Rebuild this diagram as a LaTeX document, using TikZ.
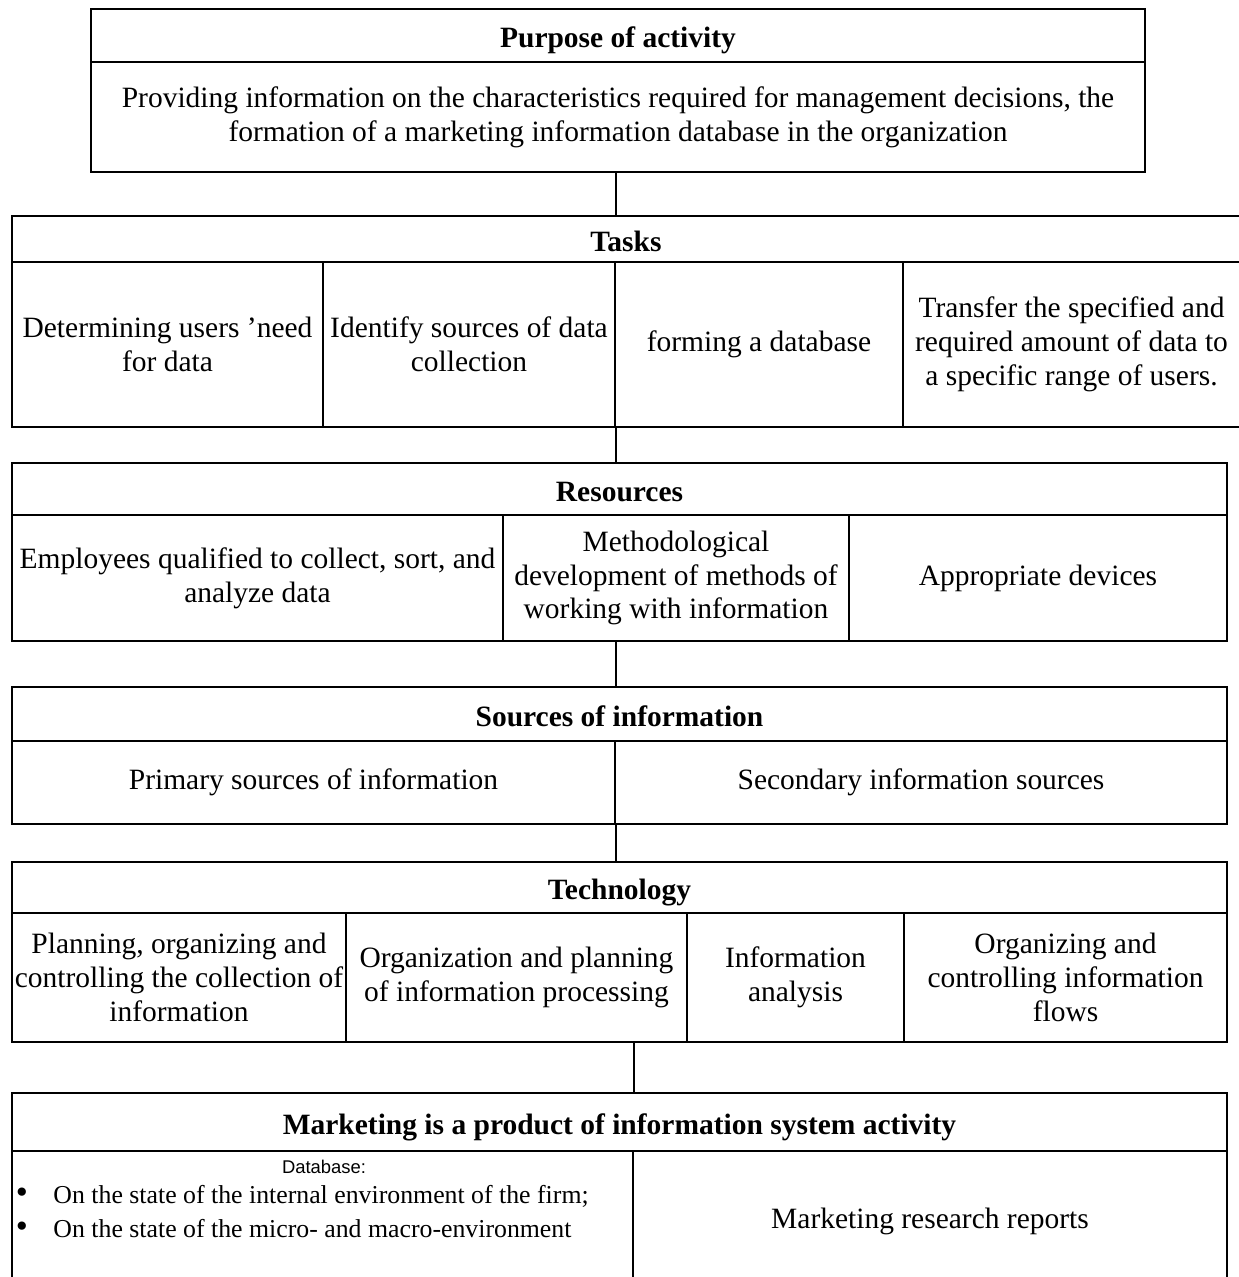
\documentclass[tikz,border=0pt]{standalone}
\usepackage{fontspec}
\setmainfont{Liberation Serif}
\newfontfamily\labelsans{Liberation Sans}
\tikzset{
  cell/.style={draw, line width=0.7pt, inner sep=0pt, align=center,
    font=\fontsize{12}{13.8}\selectfont},
  headcell/.style={cell, text height=1em, text depth=0pt,
    font=\fontsize{12}{13.8}\selectfont\bfseries},
  sz/.style 2 args={minimum width=#1*0.407pt, minimum height=#2*0.407pt},
  link/.style={draw, line width=0.6pt},
  itemtext/.style={anchor=base west, inner sep=0pt, font=\fontsize{10.5}{12}\selectfont},
  itemdot/.style={anchor=base, inner sep=0pt, font=\fontsize{14}{14}\selectfont},
}
\begin{document}
\begin{tikzpicture}[x=0.407pt, y=-0.407pt]
	\useasboundingbox (0,0) rectangle (1238,1277);
	% purpose of activity
	\node[headcell, sz={1054}{53}] (phead) at (618,35.5) {Purpose of activity};
	\node[cell, sz={1054}{110}] (pbody) at (618,117) {Providing information on the characteristics required for management decisions, the\\ formation of a marketing information database in the organization};
	% tasks
	\node[headcell, sz={1228}{46}] (thead) at (626,239) {Tasks};
	\node[cell, sz={311}{165}] (t1) at (167.5,344.5) {Determining users ’need\\ for data};
	\node[cell, sz={292}{165}] (t2) at (469,344.5) {Identify sources of data\\ collection};
	\node[cell, sz={288}{165}] (t3) at (759,344.5) {forming a database};
	\node[cell, sz={337}{165}] (t4) at (1071.5,344.5) {Transfer the specified and\\ required amount of data to\\ a specific range of users.};
	% resources
	\node[headcell, sz={1215}{52}] (rhead) at (619.5,489) {Resources};
	\node[cell, sz={491}{126}] (r1) at (257.5,578) {Employees qualified to collect, sort, and\\ analyze data};
	\node[cell, sz={346}{126}] (r2) at (676,578) {Methodological\\ development of methods of\\ working with information};
	\node[cell, sz={378}{126}] (r3) at (1038,578) {Appropriate devices};
	% sources of information
	\node[headcell, sz={1215}{54}] (shead) at (619.5,714) {Sources of information};
	\node[cell, sz={603}{83}] (s1) at (313.5,782.5) {Primary sources of information};
	\node[cell, sz={612}{83}] (s2) at (921,782.5) {Secondary information sources};
	% technology
	\node[headcell, sz={1215}{51}] (chead) at (619.5,887.5) {Technology};
	\node[cell, sz={334}{129}] (c1) at (179,977.5) {Planning, organizing and\\ controlling the collection of\\ information};
	\node[cell, sz={341}{129}] (c2) at (516.5,977.5) {Organization and planning\\ of information processing};
	\node[cell, sz={217}{129}] (c3) at (795.5,977.5) {Information\\ analysis};
	\node[cell, sz={323}{129}] (c4) at (1065.5,977.5) {Organizing and\\ controlling information\\ flows};
	% marketing product
	\node[headcell, sz={1215}{58}] (mhead) at (619.5,1122) {Marketing is a product of information system activity};
	\node[cell, sz={621}{149}] (m1) at (322.5,1225.5) {};
	\node[cell, sz={594}{149}] (m2) at (930,1225.5) {};
	\node[anchor=base, inner sep=0pt, font=\labelsans\fontsize{7.5}{9}\selectfont] (dbtitle) at (324,1173) {Database:};
	\node[itemdot] (bul1) at (22,1203) {•};
	\node[itemtext] (item1) at (53,1203) {On the state of the internal environment of the firm;};
	\node[itemdot] (bul2) at (22,1237) {•};
	\node[itemtext] (item2) at (53,1237) {On the state of the micro- and macro-environment};
	\node[anchor=base, inner sep=0pt, font=\fontsize{12}{13.8}\selectfont] (reports) at (930,1228) {Marketing research reports};
	% connectors
	\draw[link] (pbody.south -| t2.east) -- (thead.north -| t2.east);
	\draw[link] (t2.south east) -- (rhead.north -| t2.east);
	\draw[link] (r2.south -| s1.east) -- (shead.north -| s1.east);
	\draw[link] (s1.south east) -- (chead.north -| s1.east);
	\draw[link] (c2.south -| m1.east) -- (mhead.north -| m1.east);
\end{tikzpicture}
\end{document}
